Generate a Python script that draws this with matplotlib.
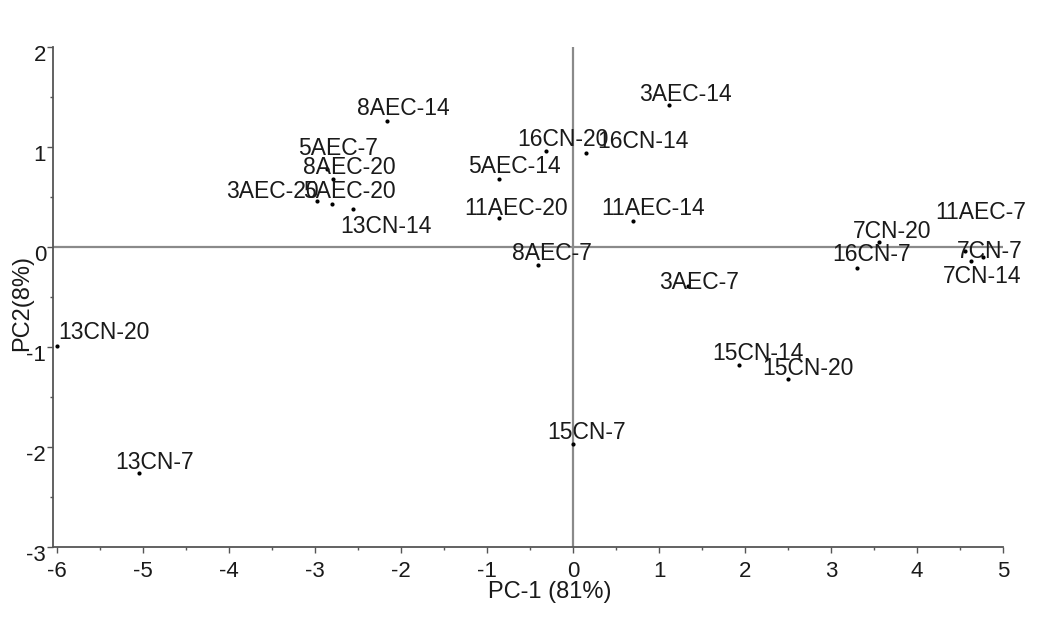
import matplotlib
matplotlib.use("Agg")
import matplotlib.pyplot as plt
import matplotlib.transforms as mtransforms
from matplotlib.ticker import MultipleLocator

plt.rcParams["font.family"] = ["Liberation Sans", "DejaVu Sans"]
plt.rcParams["axes.unicode_minus"] = False

# PCA scores
SAMPLES = ["8AEC-14", "5AEC-7", "8AEC-20", "3AEC-20", "5AEC-20", "13CN-14",
           "3AEC-14", "16CN-20", "16CN-14", "5AEC-14", "11AEC-20", "11AEC-14",
           "8AEC-7", "3AEC-7", "7CN-20", "16CN-7", "11AEC-7", "7CN-7",
           "7CN-14", "15CN-14", "15CN-20", "15CN-7", "13CN-20", "13CN-7"]
PC1 = [-2.16, -2.86, -2.79, -2.98, -2.80, -2.56,
       1.12, -0.31, 0.15, -0.86, -0.86, 0.70,
       -0.41, 1.34, 3.56, 3.30, 4.56, 4.77,
       4.63, 1.93, 2.50, 0.00, -6.00, -5.05]
PC2 = [1.26, 0.78, 0.68, 0.46, 0.43, 0.38,
       1.42, 0.96, 0.94, 0.68, 0.29, 0.26,
       -0.18, -0.39, 0.05, -0.21, -0.04, -0.10,
       -0.14, -1.18, -1.32, -1.97, -0.99, -2.26]

# label offsets in pixels (left edge, cap centre) relative to each dot
LABEL_OFFSETS = [(-30, 14), (-29, 22), (-30, 13), (-91, 11), (-29, 14), (-13, -16),
                 (-30, 12), (-29, 13), (11, 13), (-31, 14), (-35, 11), (-32, 14),
                 (-26, 13), (-29, 5), (-26, 12), (-25, 15), (-30, 40), (-26, 7),
                 (-28, -14), (-27, 13), (-26, 12), (-26, 13), (1, 15), (-24, 12)]

XLABEL = "PC-1 (81%)"
YLABEL = "PC2(8%)"

fig = plt.figure(figsize=(10.37, 6.21), dpi=100)
ax = fig.add_axes([53 / 1037, 74 / 621, 950 / 1037, 500 / 621])

ax.axhline(0, color="#8a8a8a", lw=1.6, zorder=1)
ax.axvline(0, color="#8a8a8a", lw=1.6, zorder=1)

ax.scatter(PC1, PC2, s=9, color="black", zorder=3, linewidths=0)

for name, x, y, (dx, dy) in zip(SAMPLES, PC1, PC2, LABEL_OFFSETS):
    ax.annotate(name, (x, y), xytext=(dx, dy - 8), textcoords="offset pixels",
                ha="left", va="baseline", fontsize=16.5, color="#1a1a1a", zorder=4)

ax.set_xlim(-6.05, 5.0)
ax.set_ylim(-3, 2)
ax.xaxis.set_major_locator(MultipleLocator(1))
ax.xaxis.set_minor_locator(MultipleLocator(0.5))
ax.yaxis.set_major_locator(MultipleLocator(1))
ax.yaxis.set_minor_locator(MultipleLocator(0.5))

for side in ["top", "right"]:
    ax.spines[side].set_visible(False)
for side in ["left", "bottom"]:
    ax.spines[side].set_color("#555555")
    ax.spines[side].set_linewidth(1.3)

ax.tick_params(which="major", direction="out", length=4, width=1, color="#555555",
               labelsize=16, labelcolor="#1a1a1a")
ax.tick_params(which="minor", direction="out", length=2.5, width=1, color="#555555")
ax.tick_params(axis="x", which="major", pad=6)
ax.tick_params(axis="y", which="major", pad=1)

# y tick labels sit slightly below their ticks in the original
shift = mtransforms.ScaledTranslation(0, -6 / 100, fig.dpi_scale_trans)
for lab in ax.get_yticklabels():
    lab.set_transform(lab.get_transform() + shift)

ax.set_xlabel(XLABEL, fontsize=17, color="#1a1a1a", va="top")
ax.xaxis.set_label_coords(0.523, -0.068)
ax.set_ylabel(YLABEL, fontsize=17, color="#1a1a1a", va="center")
ax.yaxis.set_label_coords(-0.032, 0.488)

fig.savefig("out.png", dpi=100, facecolor="white")
